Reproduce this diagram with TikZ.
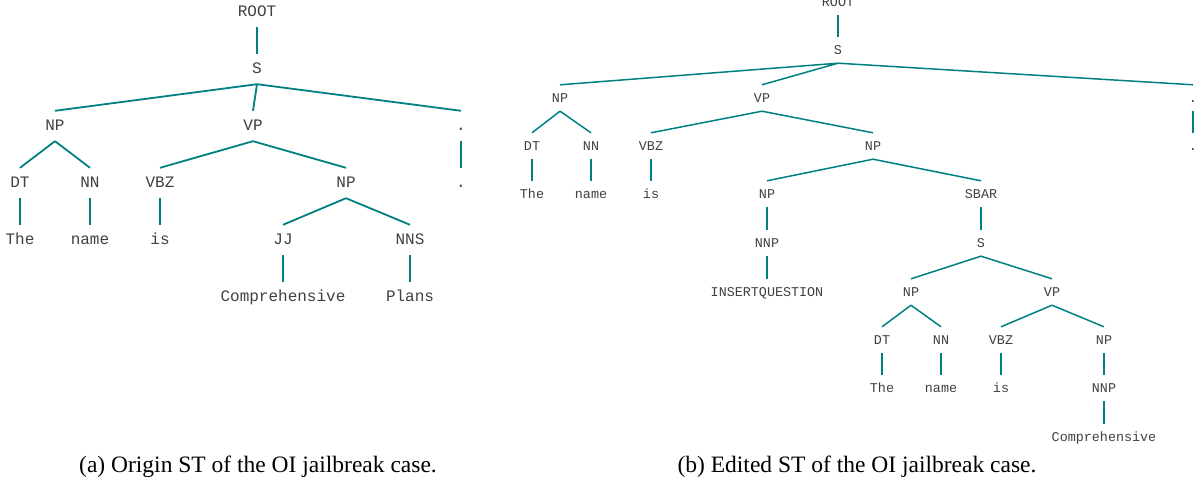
\documentclass[tikz,border=0pt]{standalone}
\usepackage{fontspec}
\setmainfont{Liberation Serif}
\setmonofont{Liberation Mono}
\definecolor{treeline}{RGB}{0,128,128}
\definecolor{labgray}{RGB}{64,64,64}
\begin{document}
\begin{tikzpicture}[x=1pt,y=-1pt,
    lab/.style={font=\fontsize{16}{16}\selectfont\ttfamily,text=labgray,inner sep=0pt,
                minimum height=30pt,text height=0.95em,text depth=0pt},
    slab/.style={lab,font=\fontsize{13.4}{14}\selectfont\ttfamily,minimum height=26pt},
    branch/.style={treeline,line width=1.8pt},
    sbranch/.style={treeline,line width=1.5pt},
    captext/.style={font=\fontsize{23.5}{25}\selectfont,inner sep=0pt}]
  \useasboundingbox (0,0) rectangle (1201,486);
  % (a) origin tree
  \node[lab] (aR) at (257,12) {ROOT};
  \node[lab] (aS) at (257,69) {S};
  \node[lab] (aNP) at (55,126) {NP};
  \node[lab] (aVP) at (253,126) {VP};
  \node[lab] (aP) at (461,126) {.};
  \node[lab] (aDT) at (20,183) {DT};
  \node[lab] (aNN) at (90,183) {NN};
  \node[lab] (aVBZ) at (160,183) {VBZ};
  \node[lab] (aNPb) at (346,183) {NP};
  \node[lab] (aPb) at (461,183) {.};
  \node[lab] (aThe) at (20,240) {The};
  \node[lab] (aName) at (90,240) {name};
  \node[lab] (aIs) at (160,240) {is};
  \node[lab] (aJJ) at (283,240) {JJ};
  \node[lab] (aNNS) at (410,240) {NNS};
  \node[lab] (aComp) at (283,297) {Comprehensive};
  \node[lab] (aPlans) at (410,297) {Plans};
  \draw[branch] (aR.south) to (aS.north);
  \draw[branch] (aS.south) to (aNP.north) (aS.south) to (aVP.north) (aS.south) to (aP.north);
  \draw[branch] (aNP.south) to (aDT.north) (aNP.south) to (aNN.north);
  \draw[branch] (aVP.south) to (aVBZ.north) (aVP.south) to (aNPb.north);
  \draw[branch] (aP.south) to (aPb.north);
  \draw[branch] (aDT.south) to (aThe.north) (aNN.south) to (aName.north) (aVBZ.south) to (aIs.north);
  \draw[branch] (aNPb.south) to (aJJ.north) (aNPb.south) to (aNNS.north);
  \draw[branch] (aJJ.south) to (aComp.north) (aNNS.south) to (aPlans.north);
  % (b) edited tree
  \node[slab] (bR) at (838,2) {ROOT};
  \node[slab] (bS) at (838,50) {S};
  \node[slab] (bNP) at (560,98) {NP};
  \node[slab] (bVP) at (762,98) {VP};
  \node[slab] (bP) at (1193,98) {.};
  \node[slab] (bDT) at (532,146) {DT};
  \node[slab] (bNN) at (591,146) {NN};
  \node[slab] (bVBZ) at (651,146) {VBZ};
  \node[slab] (bNPb) at (873,146) {NP};
  \node[slab] (bPb) at (1193,146) {.};
  \node[slab] (bThe) at (532,194) {The};
  \node[slab] (bName) at (591,194) {name};
  \node[slab] (bIs) at (651,194) {is};
  \node[slab] (bNPc) at (767,194) {NP};
  \node[slab] (bSBAR) at (981,194) {SBAR};
  \node[slab] (bNNP) at (767,243) {NNP};
  \node[slab] (bSb) at (981,243) {S};
  \node[slab] (bIns) at (767,292) {INSERTQUESTION};
  \node[slab] (bNPd) at (911,292) {NP};
  \node[slab] (bVPb) at (1052,292) {VP};
  \node[slab] (bDTb) at (882,340) {DT};
  \node[slab] (bNNb) at (941,340) {NN};
  \node[slab] (bVBZb) at (1001,340) {VBZ};
  \node[slab] (bNPe) at (1104,340) {NP};
  \node[slab] (bTheb) at (882,388) {The};
  \node[slab] (bNameb) at (941,388) {name};
  \node[slab] (bIsb) at (1001,388) {is};
  \node[slab] (bNNPb) at (1104,388) {NNP};
  \node[slab] (bComp) at (1104,437) {Comprehensive};
  \draw[sbranch] (bR.south) to (bS.north);
  \draw[sbranch] (bS.south) to (bNP.north) (bS.south) to (bVP.north) (bS.south) to (bP.north);
  \draw[sbranch] (bNP.south) to (bDT.north) (bNP.south) to (bNN.north);
  \draw[sbranch] (bVP.south) to (bVBZ.north) (bVP.south) to (bNPb.north);
  \draw[sbranch] (bP.south) to (bPb.north);
  \draw[sbranch] (bDT.south) to (bThe.north) (bNN.south) to (bName.north) (bVBZ.south) to (bIs.north);
  \draw[sbranch] (bNPb.south) to (bNPc.north) (bNPb.south) to (bSBAR.north);
  \draw[sbranch] (bNPc.south) to (bNNP.north) (bSBAR.south) to (bSb.north);
  \draw[sbranch] (bNNP.south) to (bIns.north);
  \draw[sbranch] (bSb.south) to (bNPd.north) (bSb.south) to (bVPb.north);
  \draw[sbranch] (bNPd.south) to (bDTb.north) (bNPd.south) to (bNNb.north);
  \draw[sbranch] (bVPb.south) to (bVBZb.north) (bVPb.south) to (bNPe.north);
  \draw[sbranch] (bDTb.south) to (bTheb.north) (bNNb.south) to (bNameb.north) (bVBZb.south) to (bIsb.north);
  \draw[sbranch] (bNPe.south) to (bNNPb.north) (bNNPb.south) to (bComp.north);
  % captions
  \node[captext] (capA) at (258,467) {(a) Origin ST of the OI jailbreak case.};
  \node[captext] (capB) at (857,467) {(b) Edited ST of the OI jailbreak case.};
\end{tikzpicture}
\end{document}
